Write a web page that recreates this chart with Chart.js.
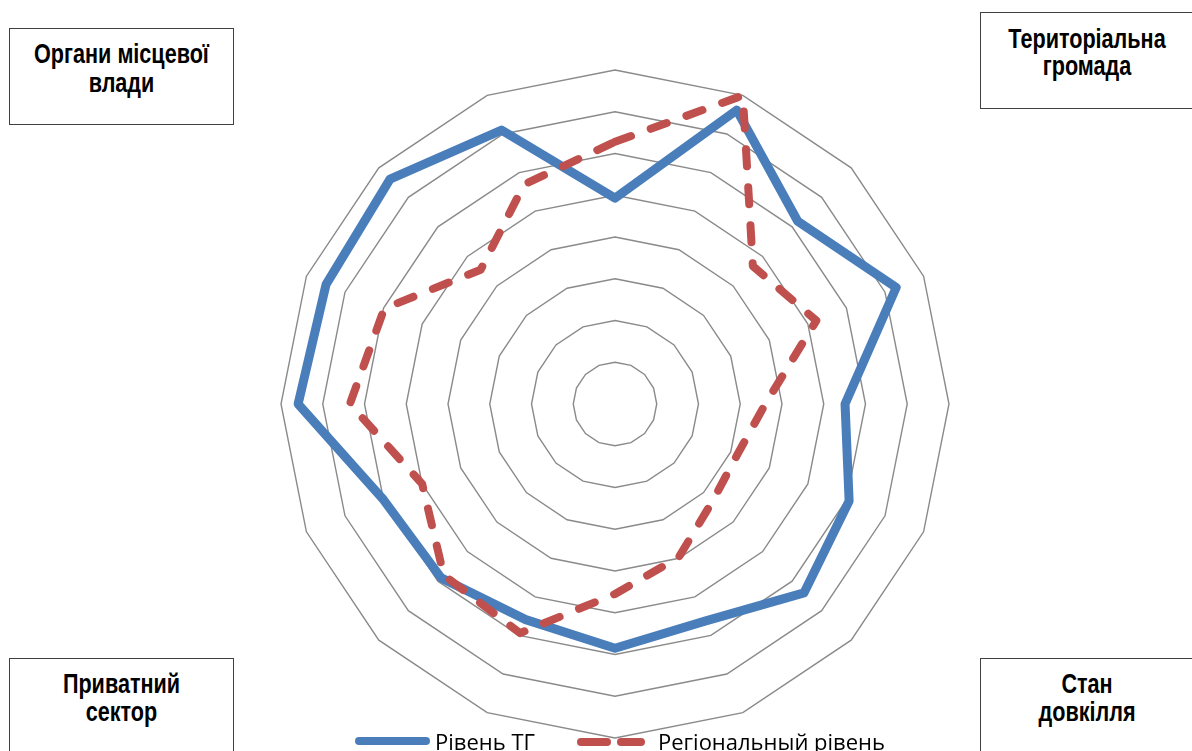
<!DOCTYPE html>
<html lang="uk">
<head>
<meta charset="utf-8">
<script src="https://cdn.jsdelivr.net/npm/chart.js@4.4.1/dist/chart.umd.min.js"></script>
<style>
  html, body { margin: 0; padding: 0; background: #ffffff; }
  #wrap { position: relative; width: 1192px; height: 751px; overflow: hidden; }
  #radar { position: absolute; left: 0; top: 0; }
  .box {
    position: absolute; box-sizing: border-box;
    border: 1px solid #404040; background: #ffffff;
  }
  .box span {
    position: absolute; left: 0; right: 0; text-align: center;
    font-family: "Liberation Sans", Arial, sans-serif;
    font-weight: bold; font-size: 27px; line-height: 27px; color: #000;
    white-space: nowrap;
    transform: scaleX(0.8); transform-origin: 50% 50%;
  }
</style>
</head>
<body>
<div id="wrap">
  <canvas id="radar" width="1192" height="751"></canvas>

  <div class="box" style="left:9px; top:28px; width:225px; height:97px;">
    <span style="top:12px;">Органи місцевої</span>
    <span style="top:41px;">влади</span>
  </div>
  <div class="box" style="left:980px; top:12px; width:214px; height:97px;">
    <span style="top:13px;">Територіальна</span>
    <span style="top:40px;">громада</span>
  </div>
  <div class="box" style="left:9px; top:658px; width:225px; height:110px;">
    <span style="top:12px;">Приватний</span>
    <span style="top:40px;">сектор</span>
  </div>
  <div class="box" style="left:980px; top:658px; width:214px; height:110px;">
    <span style="top:12px;">Стан</span>
    <span style="top:40px;">довкілля</span>
  </div>
</div>

<script>
// Indicator axes (16 spokes, clockwise from the top)
const indicators = ['1', '2', '3', '4', '5', '6', '7', '8',
                    '9', '10', '11', '12', '13', '14', '15', '16'];

// Scores per indicator
const communityLevel = [4.93, 7.62, 6.19, 7.29, 5.51, 6.07, 6.40, 5.63,
                        5.85, 5.59, 5.89, 6.00, 7.59, 7.49, 7.62, 7.10];
const regionalLevel  = [6.28, 8.00, 4.67, 5.22, 3.60, 3.17, 3.30, 3.98,
                        4.55, 5.94, 5.80, 5.00, 6.35, 5.98, 4.55, 5.69];

// Scale ticks (rings)
const scaleMin = 0;
const scaleMax = 8;
const scaleStep = 1;

const seriesNames = ['Рівень ТГ', 'Регіональный рівень'];

const BLUE = '#4a7ebb';
const RED = '#c0504d';

// Legend drawn under the web, using each dataset's own stroke style
const bottomLegend = {
  id: 'bottomLegend',
  afterDraw(chart) {
    const ctx = chart.ctx;
    const items = [
      { ds: chart.data.datasets[0], x0: 355, x1: 430, y: 741, tx: 435, dash: [] },
      { ds: chart.data.datasets[1], x0: 577, x1: 645, y: 742, tx: 658, dash: [26, 14] }
    ];
    ctx.save();
    items.forEach(it => {
      ctx.beginPath();
      ctx.strokeStyle = it.ds.borderColor;
      ctx.lineWidth = 8;
      ctx.lineCap = 'round';
      ctx.setLineDash(it.dash);
      ctx.moveTo(it.x0 + 4, it.y);
      ctx.lineTo(it.x1 - 4, it.y);
      ctx.stroke();
      ctx.setLineDash([]);
      ctx.fillStyle = '#000000';
      ctx.font = '22px "Open Sans", "Liberation Sans", sans-serif';
      ctx.textBaseline = 'alphabetic';
      ctx.textAlign = 'left';
      ctx.fillText(it.ds.label, it.tx, 750);
    });
    ctx.restore();
  }
};

new Chart(document.getElementById('radar'), {
  type: 'radar',
  data: {
    labels: indicators,
    datasets: [
      {
        label: seriesNames[0],
        data: communityLevel,
        borderColor: BLUE,
        backgroundColor: 'rgba(0,0,0,0)',
        borderWidth: 9,
        borderJoinStyle: 'round',
        pointRadius: 0,
        pointHoverRadius: 0,
        fill: false,
        order: 1
      },
      {
        label: seriesNames[1],
        data: regionalLevel,
        borderColor: RED,
        backgroundColor: 'rgba(0,0,0,0)',
        borderWidth: 8,
        borderDash: [17, 21],
        borderCapStyle: 'round',
        borderJoinStyle: 'round',
        pointRadius: 0,
        pointHoverRadius: 0,
        fill: false,
        order: 0
      }
    ]
  },
  options: {
    responsive: false,
    animation: false,
    devicePixelRatio: 1,
    layout: { padding: { left: 281, top: 70, right: 243, bottom: 13 } },
    plugins: {
      legend: { display: false },
      title: { display: false },
      tooltip: { enabled: false }
    },
    elements: { line: { tension: 0 } },
    scales: {
      r: {
        min: scaleMin,
        max: scaleMax,
        ticks: { display: false, stepSize: scaleStep },
        pointLabels: { display: false },
        angleLines: { display: false },
        grid: { color: '#8a8a8a', lineWidth: 1.4 }
      }
    }
  },
  plugins: [bottomLegend]
});
</script>
</body>
</html>
